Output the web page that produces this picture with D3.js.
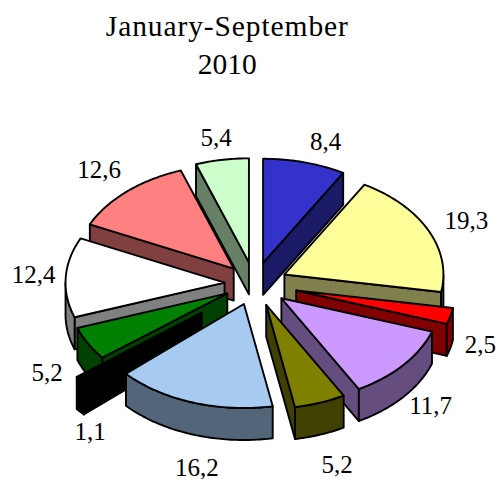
<!DOCTYPE html>
<html><head><meta charset="utf-8">
<script src="https://cdn.jsdelivr.net/npm/d3@7/dist/d3.min.js"></script>
<style>html,body{margin:0;padding:0;background:#fff;overflow:hidden}svg{display:block}</style>
</head><body><svg id="c" width="499" height="479"></svg>
<script>
// data
const values = [8.4, 19.3, 2.5, 11.7, 5.2, 16.2, 1.1, 5.2, 12.4, 12.6, 5.4];
const labels = ["8,4","19,3","2,5","11,7","5,2","16,2","1,1","5,2","12,4","12,6","5,4"];
const titleLines = ["January-September", "2010"];
const topColors = ["#3333cc","#ffff99","#ff0000","#cc99ff","#808000","#a6caf0","#000000","#008000","#ffffff","#ff8080","#ccffcc"];
const sideColors = ["#1a1a66","#80804d","#800000","#664d80","#404000","#536578","#000000","#004000","#808080","#804040","#668066"];

// layout
const explode = [33, 33, 43, 35, 34.5, 33, 69, 31, 30, 31, 33];
const labelNudge = [[21,-21],[38,-10],[30,28],[27,40],[17,62],[4,64.5],[10,52],[-41,29],[-32,-3],[-28,-22],[-6,-23]];
const drawOrder = [0,10,9,1,2,8,7,3,6,4,5];
const cx = 254.5, cy = 283.6, R = 159, tilt = 0.654, depth = 32;

const svg = d3.select("#c");
const x = d3.scaleLinear().domain([-1,1]).range([cx-R, cx+R]);
const y = d3.scaleLinear().domain([-1,1]).range([cy-R*tilt, cy+R*tilt]);
const arcs = d3.pie().sort(null).value(d=>d)(values);
const line = d3.line();
const TAU = Math.PI*2;

function build(a,i){
  const mid=(a.startAngle+a.endAngle)/2, e=explode[i]/R;
  const ox=e*Math.sin(mid), oy=-e*Math.cos(mid);
  const pt=(t,r=1,dz=0)=>[x(ox+r*Math.sin(t)), y(oy-r*Math.cos(t))+dz];
  const rim=(t0,t1,dz=0)=>{const n=Math.max(2,Math.ceil((t1-t0)*60));
    return d3.range(n+1).map(k=>pt(t0+(t1-t0)*k/n,1,dz));};
  return {mid,pt,rim,a};
}
const style=(s,fill)=>s.attr("fill",fill).attr("stroke","#000").attr("stroke-width",1.9).attr("stroke-linejoin","round");

drawOrder.forEach(i=>{
  const a=arcs[i], b=build(a,i), g=svg.append("g");
  const side=sideColors[i];
  const s0=a.startAngle, s1=a.endAngle;
  // visible radial cut walls
  if(s0>Math.PI && s0<TAU){
    const p=[b.pt(s0,0),b.pt(s0,1),b.pt(s0,1,depth),b.pt(s0,0,depth)];
    style(g.append("path").attr("d",line(p)+"Z"),side);
  }
  if(s1>0 && s1<Math.PI){
    const p=[b.pt(s1,0),b.pt(s1,1),b.pt(s1,1,depth),b.pt(s1,0,depth)];
    style(g.append("path").attr("d",line(p)+"Z"),side);
  }
  // visible outer wall
  const r0=Math.max(s0,Math.PI/2), r1=Math.min(s1,Math.PI*1.5);
  if(r1>r0){
    const p=b.rim(r0,r1).concat(b.rim(r0,r1,depth).reverse());
    style(g.append("path").attr("d",line(p)+"Z"),side);
  }
  // top face
  const p=[b.pt(s0,0)].concat(b.rim(s0,s1));
  style(g.append("path").attr("d",line(p)+"Z"),topColors[i]);
});

// value labels
arcs.forEach((a,i)=>{
  const b=build(a,i), q=b.pt(b.mid);
  svg.append("text").attr("x",q[0]+labelNudge[i][0]).attr("y",q[1]+labelNudge[i][1]).attr("dy","0.35em")
    .attr("text-anchor","middle").attr("font-family","'Liberation Serif',serif").attr("font-size",25).attr("fill","#000")
    .text(labels[i]);
});
// title
svg.selectAll("text.t").data(titleLines).enter().append("text").attr("class","t")
  .attr("x",227.3).attr("y",(d,i)=>36+i*38).attr("text-anchor","middle")
  .attr("font-family","'Liberation Serif',serif").attr("font-size",29.5)
  .attr("letter-spacing",(d,i)=>i===0?0.9:0).attr("fill","#000").text(d=>d);
</script></body></html>
